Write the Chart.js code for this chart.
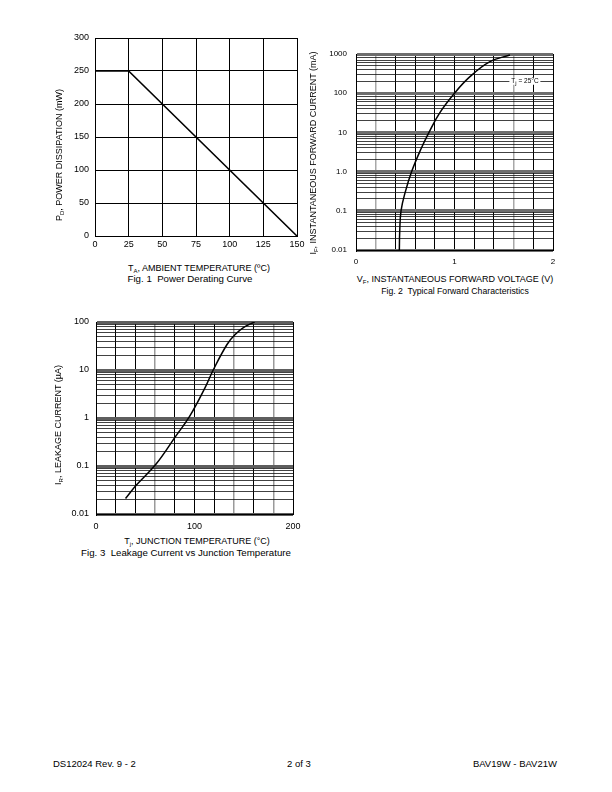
<!DOCTYPE html>
<html>
<head>
<meta charset="utf-8">
<script src="https://cdn.jsdelivr.net/npm/chart.js@4.4.0/dist/chart.umd.min.js"></script>
<style>
  body { margin: 0; background: #fff; font-family: 'Liberation Sans', Arial, sans-serif; color: #000; }
  #page { position: relative; width: 612px; height: 792px; overflow: hidden; background: #fff; }
  canvas { position: absolute; }
  .lbl { position: absolute; white-space: pre; font-size: 9px; line-height: 1; transform: translate(-50%, -50%); }
  .rot { position: absolute; white-space: pre; font-size: 9px; width: 240px; height: 12px; line-height: 12px; text-align: center; transform: rotate(-90deg); }
  .cap { font-size: 9.7px; }
  .cap2 { font-size: 8.7px; }
  sub { font-size: 6px; vertical-align: -2px; line-height: 0; }
  .tj { font-size: 6.5px; background: #fff; padding: 0 2px; }
  .foot { position: absolute; top: 758px; font-size: 9.5px; white-space: nowrap; }
</style>
</head>
<body>
<div id="page">
  <canvas id="fig1" width="262" height="236" style="left:50px;top:20px"></canvas>
  <canvas id="fig2" width="250" height="230" style="left:320px;top:40px"></canvas>
  <canvas id="fig3" width="260" height="229" style="left:50px;top:305px"></canvas>

  <!-- Fig. 1 titles -->
  <div class="rot" style="left:-61px;top:149px">P<sub>D</sub>, POWER DISSIPATION (mW)</div>
  <div class="lbl" style="left:199px;top:268px">T<sub>A</sub>, AMBIENT TEMPERATURE (ºC)</div>
  <div class="lbl cap" style="left:190px;top:279px">Fig. 1  Power Derating Curve</div>

  <!-- Fig. 2 titles -->
  <div class="rot" style="left:193px;top:147px">I<sub>F</sub>, INSTANTANEOUS FORWARD CURRENT (mA)</div>
  <div class="lbl" style="left:455px;top:279px">V<sub>F</sub>, INSTANTANEOUS FORWARD VOLTAGE (V)</div>
  <div class="lbl cap2" style="left:455px;top:291px">Fig. 2  Typical Forward Characteristics</div>
  <div class="lbl tj" style="left:525px;top:81px">T<sub>j</sub> = 25°C</div>

  <!-- Fig. 3 titles -->
  <div class="rot" style="left:-62px;top:419px">I<sub>R</sub>, LEAKAGE CURRENT (µA)</div>
  <div class="lbl" style="left:197px;top:541px">T<sub>j</sub>, JUNCTION TEMPERATURE (°C)</div>
  <div class="lbl cap" style="left:186px;top:553px">Fig. 3  Leakage Current vs Junction Temperature</div>

  <!-- footer -->
  <div class="foot" style="left:53px">DS12024 Rev. 9 - 2</div>
  <div class="foot" style="left:287px">2 of 3</div>
  <div class="foot" style="right:55px">BAV19W - BAV21W</div>
</div>

<script>
// ---- Fig. 1 : power derating ----
const ambientTemp = [0, 25, 150];
const powerDiss = [250, 250, 0];
const fig1XTicks = [0, 25, 50, 75, 100, 125, 150];
const fig1YTicks = [0, 50, 100, 150, 200, 250, 300];

// ---- Fig. 2 : forward characteristics (V, mA) ----
const forwardV = [0.44, 0.444, 0.457, 0.5, 0.565, 0.655, 0.741, 0.85, 1.0, 1.157, 1.36, 1.563];
const forwardI = [0.01, 0.03, 0.1, 0.3, 1, 3.56, 10, 31.6, 100, 264, 637, 943];
const fig2XTicks = [0, 0.2, 0.4, 0.6, 0.8, 1, 1.2, 1.4, 1.6, 1.8, 2];
const fig2XLabels = { 0: '0', 1: '1', 2: '2' };
const fig2YDecades = [0.01, 0.1, 1, 10, 100, 1000];
const fig2YLabels = ['0.01', '0.1', '1.0', '10', '100', '1000'];

// ---- Fig. 3 : leakage current (degC, uA) ----
const junctionTemp = [30, 41, 61, 81, 95, 111, 119, 133, 141, 150, 161];
const leakageI = [0.021, 0.04, 0.11, 0.42, 1.08, 4.4, 10, 34, 54, 77, 100];
const fig3XTicks = [0, 20, 40, 60, 80, 100, 120, 140, 160, 180, 200];
const fig3XLabels = { 0: '0', 100: '100', 200: '200' };
const fig3YDecades = [0.01, 0.1, 1, 10, 100];
const fig3YLabels = ['0.01', '0.1', '1', '10', '100'];

const FONT = "'Liberation Sans', Arial, sans-serif";

function pts(xs, ys) {
    return xs.map((x, i) => ({ x: x, y: ys[i] }));
}

// decade lines plus the 2..9 lines inside each decade
function logGrid(decades) {
    const out = [];
    decades.forEach((d, i) => {
        out.push({ value: d });
        if (i < decades.length - 1) {
            for (let k = 2; k <= 9; k++) out.push({ value: d * k });
        }
    });
    return out;
}

function decadeIndex(decades, v) {
    return decades.findIndex(d => Math.abs(v - d) < d * 1e-6);
}

function near(a, b) { return Math.abs(a - b) < 1e-6; }

function baseOptions(pad, yWidth) {
    return {
        responsive: false,
        animation: false,
        events: [],
        layout: { padding: pad },
        plugins: { legend: { display: false }, tooltip: { enabled: false } },
        scales: {
            x: {
                type: 'linear',
                afterFit: s => { s.height = 20; },
                border: { color: '#000', width: 1 },
                ticks: { color: '#000', font: { family: FONT, size: 9 }, autoSkip: false, maxRotation: 0, padding: 4 }
            },
            y: {
                afterFit: s => { s.width = yWidth; },
                border: { color: '#000', width: 1 },
                ticks: { color: '#000', font: { family: FONT, size: 9 }, autoSkip: false, padding: 6 }
            }
        }
    };
}

function curve(xs, ys, width, tension) {
    return {
        data: pts(xs, ys),
        borderColor: '#000',
        borderWidth: width,
        pointRadius: 0,
        fill: false,
        tension: tension
    };
}

// Fig. 1
const opt1 = baseOptions({ left: 0, top: 18, right: 15, bottom: 0 }, 45);
Object.assign(opt1.scales.x, {
    min: 0, max: 150,
    afterBuildTicks: s => { s.ticks = fig1XTicks.map(v => ({ value: v })); },
    grid: { color: '#000', lineWidth: 1, drawTicks: false }
});
opt1.scales.x.ticks.padding = 3;
Object.assign(opt1.scales.y, {
    type: 'linear', min: 0, max: 300,
    afterBuildTicks: s => { s.ticks = fig1YTicks.map(v => ({ value: v })); },
    grid: { color: '#000', lineWidth: 1, drawTicks: false }
});
new Chart(document.getElementById('fig1'), {
    type: 'line',
    data: { datasets: [curve(ambientTemp, powerDiss, 1.6, 0)] },
    options: opt1
});

// Fig. 2
const opt2 = baseOptions({ left: 0, top: 14, right: 17, bottom: 0 }, 36);
Object.assign(opt2.scales.x, {
    min: 0, max: 2,
    afterBuildTicks: s => { s.ticks = fig2XTicks.map(v => ({ value: v })); },
    grid: {
        drawTicks: false,
        color: c => (near(c.tick.value, 0.2) || near(c.tick.value, 1.6)) ? '#a8a8a8' : '#000',
        lineWidth: c => (near(c.tick.value, 0.2) || near(c.tick.value, 1.6)) ? 1.5 : 1
    }
});
opt2.scales.x.ticks.font.size = 8;
opt2.scales.x.ticks.padding = 7;
opt2.scales.x.ticks.callback = v => {
    const k = Object.keys(fig2XLabels).find(t => near(+t, v));
    return k !== undefined ? fig2XLabels[k] : '';
};
Object.assign(opt2.scales.y, {
    type: 'logarithmic', min: 0.01, max: 1000,
    afterBuildTicks: s => { s.ticks = logGrid(fig2YDecades); },
    grid: {
        drawTicks: false,
        color: c => decadeIndex(fig2YDecades, c.tick.value) >= 0 ? '#6e6e6e' : '#111',
        lineWidth: c => decadeIndex(fig2YDecades, c.tick.value) >= 0 ? 3 : 0.8
    }
});
opt2.scales.y.ticks.font.size = 8;
opt2.scales.y.ticks.padding = 9;
opt2.scales.y.ticks.callback = v => {
    const i = decadeIndex(fig2YDecades, v);
    return i >= 0 ? fig2YLabels[i] : '';
};
new Chart(document.getElementById('fig2'), {
    type: 'line',
    data: { datasets: [curve(forwardV, forwardI, 1.5, 0.4)] },
    options: opt2
});

// Fig. 3
const opt3 = baseOptions({ left: 0, top: 17, right: 17, bottom: 0 }, 46);
Object.assign(opt3.scales.x, {
    min: 0, max: 200,
    afterBuildTicks: s => { s.ticks = fig3XTicks.map(v => ({ value: v })); },
    grid: {
        drawTicks: false,
        color: c => [60, 140, 180].includes(c.tick.value) ? '#9a9a9a' : '#000',
        lineWidth: c => [60, 140, 180].includes(c.tick.value) ? 1.5 : 1
    }
});
opt3.scales.x.ticks.padding = 7;
opt3.scales.x.ticks.callback = v => (fig3XLabels[v] !== undefined ? fig3XLabels[v] : '');
Object.assign(opt3.scales.y, {
    type: 'logarithmic', min: 0.01, max: 100,
    afterBuildTicks: s => { s.ticks = logGrid(fig3YDecades); },
    grid: {
        drawTicks: false,
        color: c => decadeIndex(fig3YDecades, c.tick.value) >= 0 ? '#5e5e5e' : '#111',
        lineWidth: c => decadeIndex(fig3YDecades, c.tick.value) >= 0 ? 3 : 0.8
    }
});
opt3.scales.y.ticks.padding = 7;
opt3.scales.y.ticks.callback = v => {
    const i = decadeIndex(fig3YDecades, v);
    return i >= 0 ? fig3YLabels[i] : '';
};
new Chart(document.getElementById('fig3'), {
    type: 'line',
    data: { datasets: [curve(junctionTemp, leakageI, 1.5, 0.4)] },
    options: opt3
});
</script>
</body>
</html>
